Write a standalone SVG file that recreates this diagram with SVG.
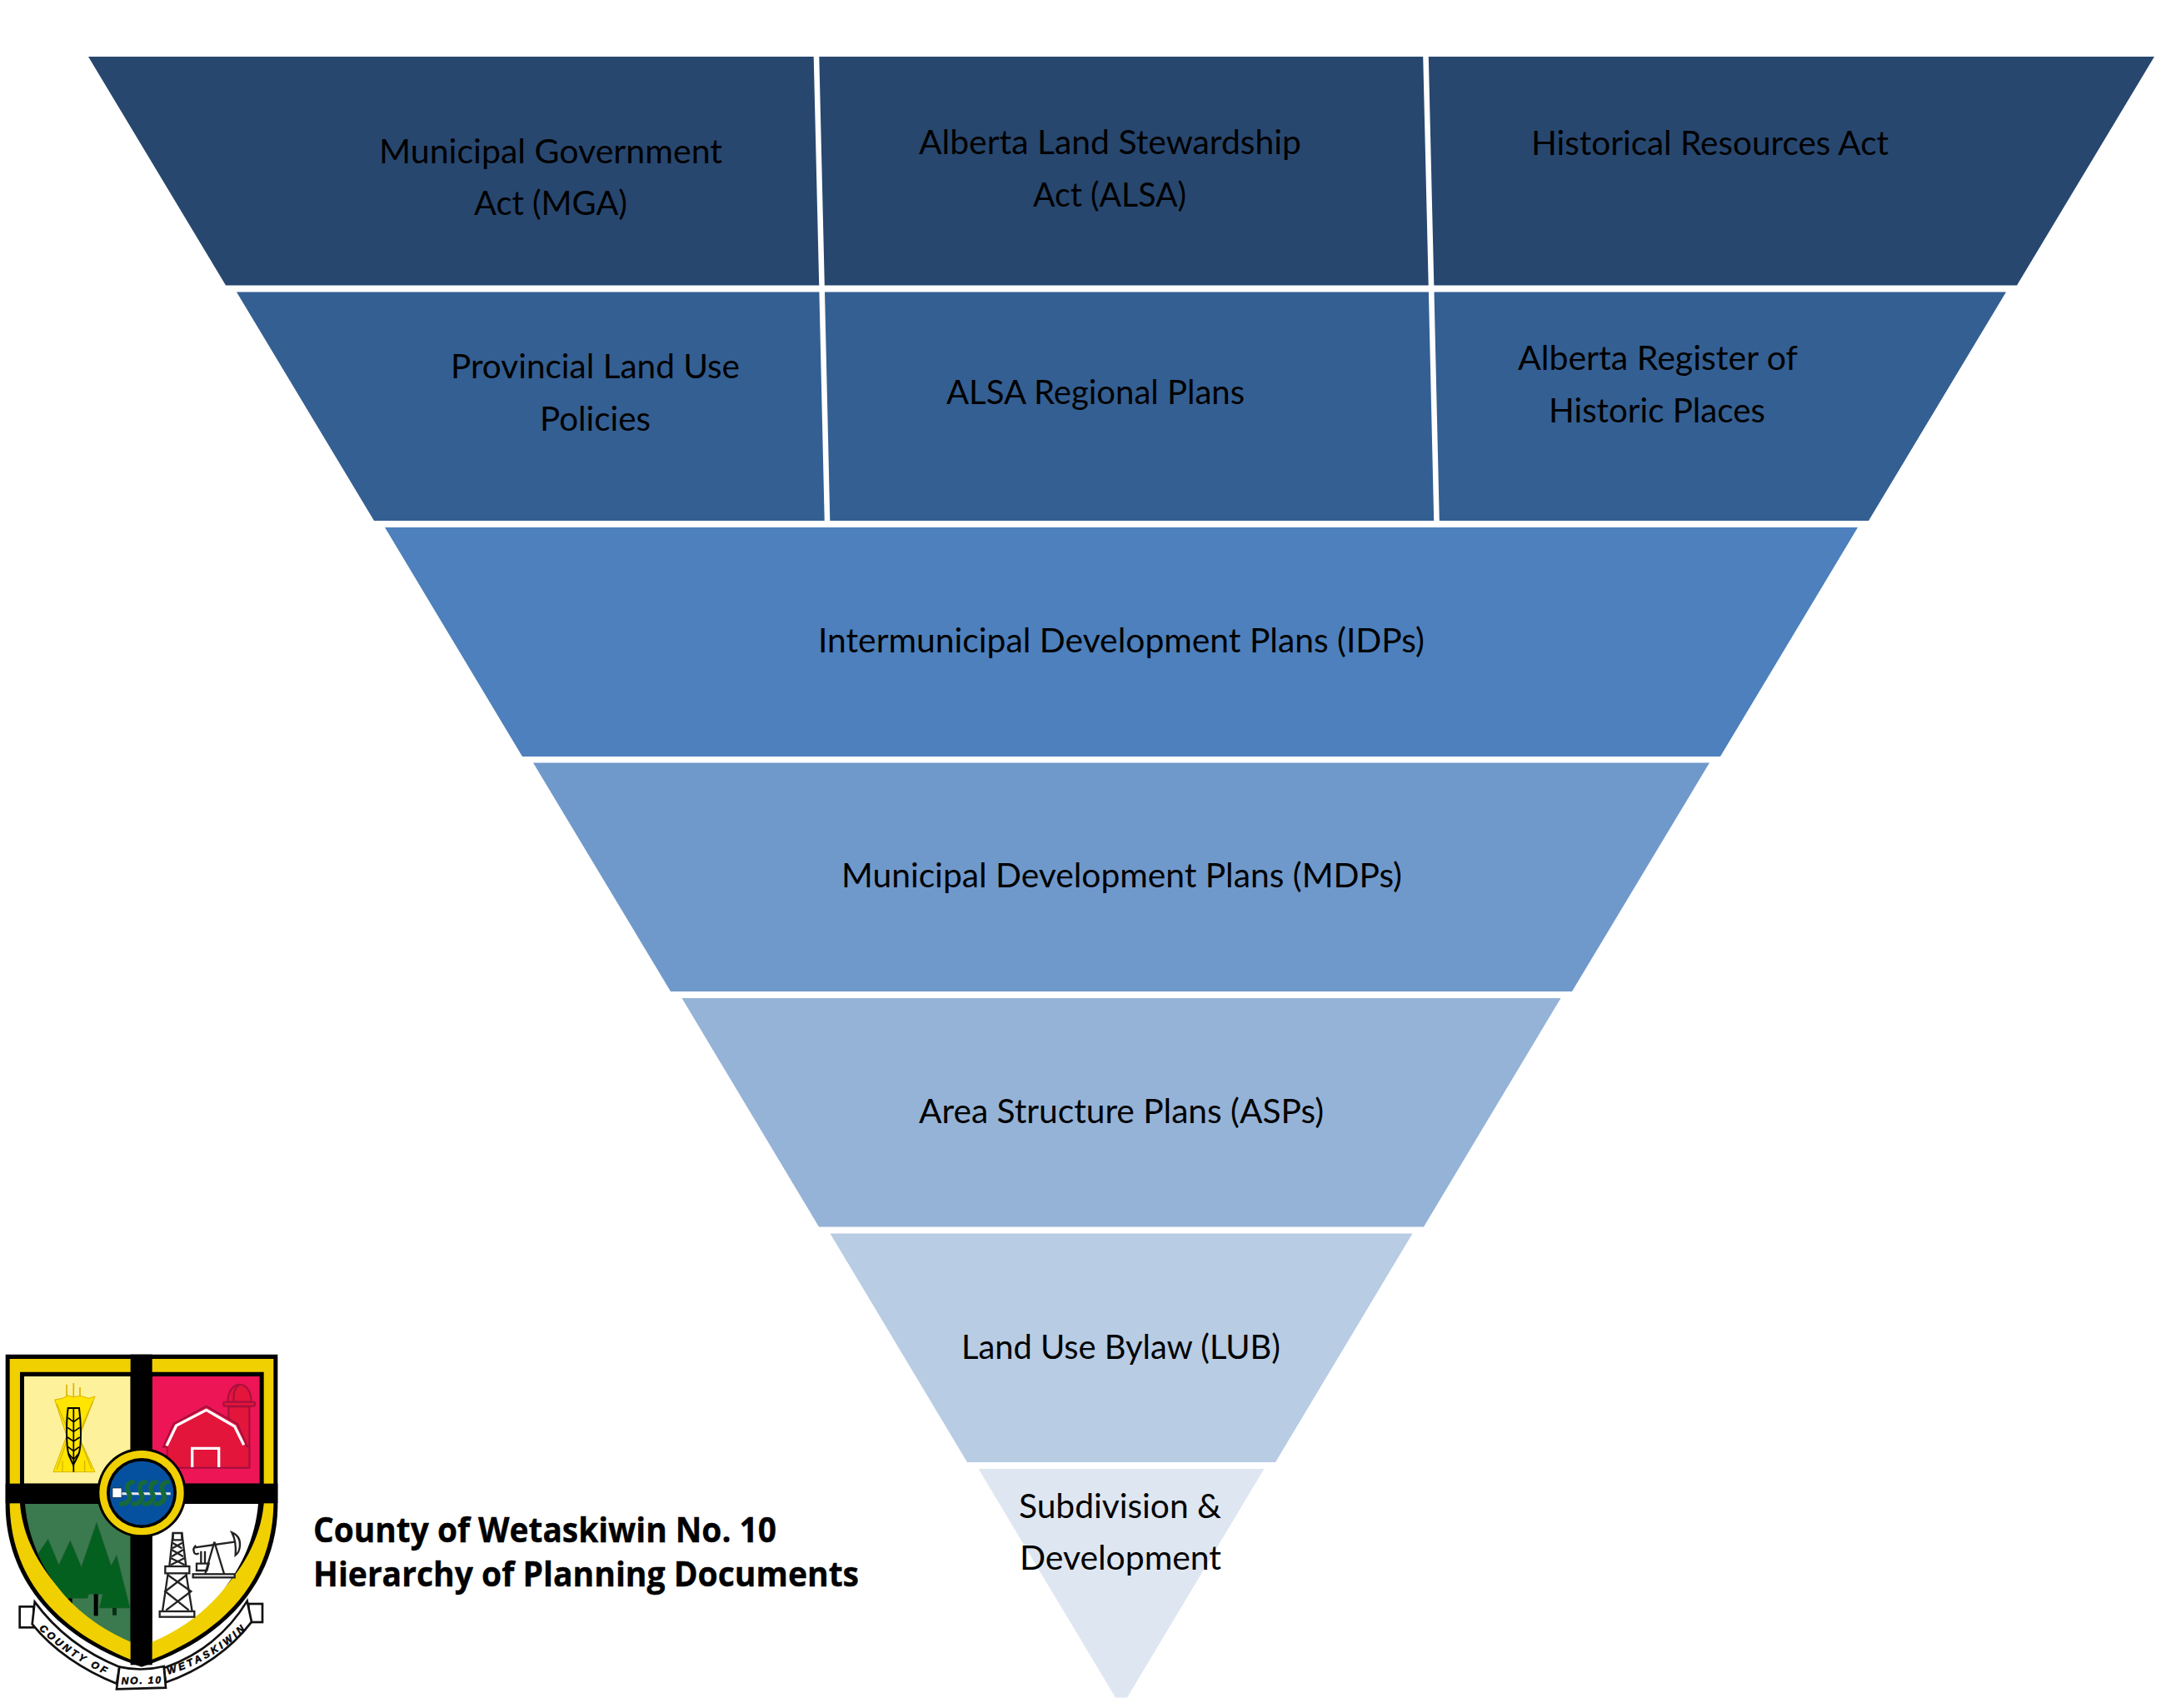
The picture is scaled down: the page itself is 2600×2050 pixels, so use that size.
<svg xmlns="http://www.w3.org/2000/svg" width="2600" height="2050" viewBox="0 0 2600 2050">
<style>
.t{font-family:"Lato","Carlito","Liberation Sans",sans-serif;font-size:40.5px;fill:#000}
.h{font-family:"Open Sans","Noto Sans","Liberation Sans",sans-serif;font-size:42px;font-weight:700;fill:#000;stroke:#000;stroke-width:.4}
.r{font-family:"Liberation Sans","DejaVu Sans",sans-serif;font-size:36px;font-weight:700;font-style:italic;fill:#000;stroke:#000;stroke-width:1.5}
.b1{fill:#27476f}.b2{fill:#345f92}.b3{fill:#4d80bc}.b4{fill:#7099cb}.b5{fill:#95b3d7}.b6{fill:#b8cce4}.b7{fill:#dee6f1}
</style>
<defs>
<clipPath id="greenClip"><path d="M90 585H470V1082C210 970 105 760 90 585Z"/></clipPath>
<path id="ribL" d="M140 1035Q240 1137 402 1209"/>
<path id="ribR" d="M605 1199Q770 1152 899 1022"/>
</defs>
<rect width="2600" height="2050" fill="#fff"/>

<g id="node-mga"><polygon class="b1" points="106,68 976.7,68 983.2,342.5 271,342.5"/>
<text class="t" x="455" y="196" textLength="412" lengthAdjust="spacingAndGlyphs">Municipal Government</text>
<text class="t" x="569" y="258" textLength="184" lengthAdjust="spacingAndGlyphs">Act (MGA)</text></g>
<g id="node-alsa"><polygon class="b1" points="983.3,68 1708.2,68 1714.7,342.5 989.8,342.5"/>
<text class="t" x="1103" y="185" textLength="459" lengthAdjust="spacingAndGlyphs">Alberta Land Stewardship</text>
<text class="t" x="1240" y="248" textLength="184" lengthAdjust="spacingAndGlyphs">Act (ALSA)</text></g>
<g id="node-hra"><polygon class="b1" points="1714.8,68 2586,68 2421,342.5 1721.3,342.5"/>
<text class="t" x="1838" y="186" textLength="429" lengthAdjust="spacingAndGlyphs">Historical Resources Act</text></g>

<g id="node-plup"><polygon class="b2" points="284,350.5 983.4,350.5 989.7,625 449,625"/>
<text class="t" x="541" y="454" textLength="347" lengthAdjust="spacingAndGlyphs">Provincial Land Use</text>
<text class="t" x="648" y="517" textLength="133" lengthAdjust="spacingAndGlyphs">Policies</text></g>
<g id="node-regional"><polygon class="b2" points="990,350.5 1714.9,350.5 1721.2,625 996.3,625"/>
<text class="t" x="1136" y="485" textLength="358" lengthAdjust="spacingAndGlyphs">ALSA Regional Plans</text></g>
<g id="node-register"><polygon class="b2" points="1721.5,350.5 2408,350.5 2243,625 1727.8,625"/>
<text class="t" x="1822" y="444" textLength="336" lengthAdjust="spacingAndGlyphs">Alberta Register of</text>
<text class="t" x="1859" y="507" textLength="260" lengthAdjust="spacingAndGlyphs">Historic Places</text></g>

<g id="node-idp"><polygon class="b3" points="462,633 2230,633 2065,908 627,908"/>
<text class="t" x="982" y="783" textLength="728" lengthAdjust="spacingAndGlyphs">Intermunicipal Development Plans (IDPs)</text></g>
<g id="node-mdp"><polygon class="b4" points="640,915.5 2052,915.5 1887,1190 805,1190"/>
<text class="t" x="1010" y="1065" textLength="673" lengthAdjust="spacingAndGlyphs">Municipal Development Plans (MDPs)</text></g>
<g id="node-asp"><polygon class="b5" points="818.5,1198 1873.5,1198 1709,1472.5 983,1472.5"/>
<text class="t" x="1103" y="1348" textLength="486" lengthAdjust="spacingAndGlyphs">Area Structure Plans (ASPs)</text></g>
<g id="node-lub"><polygon class="b6" points="996.5,1480.5 1695.5,1480.5 1531,1755 1161,1755"/>
<text class="t" x="1154" y="1631" textLength="383" lengthAdjust="spacingAndGlyphs">Land Use Bylaw (LUB)</text></g>
<g id="node-subdivision"><polygon class="b7" points="1174.6,1763 1517.4,1763 1353,2037.5 1339,2037.5"/>
<text class="t" x="1223" y="1822" textLength="243" lengthAdjust="spacingAndGlyphs">Subdivision &amp;</text>
<text class="t" x="1224" y="1884" textLength="242" lengthAdjust="spacingAndGlyphs">Development</text></g>

<g id="connectors"/>

<g id="title">
<text class="h" x="376" y="1851" textLength="556" lengthAdjust="spacingAndGlyphs">County of Wetaskiwin No. 10</text>
<text class="h" x="376" y="1904" textLength="655" lengthAdjust="spacingAndGlyphs">Hierarchy of Planning Documents</text>
</g>

<g id="logo" transform="translate(0 1610) scale(.33333)">
<g id="ribbon" fill="#fff" stroke="#111" stroke-width="8">
<rect x="71" y="955" width="50" height="75"/>
<rect x="895" y="945" width="50" height="66"/>
<path d="M125 938C200 1040 300 1120 430 1172L420 1232C300 1185 190 1110 116 1018Z"/>
<path d="M590 1176C720 1130 820 1050 890 935L906 1010C830 1110 720 1185 597 1228Z"/>
<path d="M430 1172Q510 1190 590 1170L597 1247L420 1252Z"/>
</g>
<text class="r"><textPath href="#ribL" textLength="290">COUNTY OF</textPath></text>
<text class="r"><textPath href="#ribR" textLength="325">WETASKIWIN</textPath></text>
<text class="r" x="437" y="1233" textLength="142" transform="rotate(-1.5 510 1225)">NO. 10</text>
<path fill="#000" d="M20 47H1000V600C995 830 850 1060 510 1172C170 1060 25 830 20 600Z"/>
<path fill="#f0d000" d="M35 63H985V590C980 825 845 1040 510 1160C175 1040 40 825 35 590Z"/>
<path fill="#000" d="M72 110H950V585C932 780 780 975 510 1097C240 975 88 780 72 585Z"/>
<rect x="87" y="126" width="383" height="386" fill="#fdf29b"/>
<rect x="548" y="126" width="387" height="386" fill="#ed1556"/>
<path fill="#3a7a4e" d="M90 585H470V1082C210 970 105 760 90 585Z"/>
<path fill="#fff" d="M930 585H548V1082C810 970 915 760 930 585Z"/>
<g id="trees" clip-path="url(#greenClip)">
<path fill="#03601f" stroke="#2a5a38" stroke-width="2" d="M120 790L173 712L212 805L253 717L293 812L348 652L400 808L420 770L468 960H358L370 910H320L315 925H200Z"/>
<rect x="245" y="925" width="15" height="40" fill="#000"/>
<rect x="338" y="910" width="15" height="78" fill="#000"/>
<rect x="405" y="960" width="15" height="26" fill="#0a2f16"/>
</g>
<g id="wheat">
<path d="M240 155V205M265 150V205M288 165V205" stroke="#d9b300" stroke-width="5" fill="none"/>
<path fill="#ffe500" stroke="#d9b300" stroke-width="3" d="M197 210L225 205L245 195L265 200L290 196L320 205L342 198L285 345L342 470H192L240 340Z"/>
<path d="M205 225L245 320M335 215L290 320M205 460L240 360M330 460L290 360M225 470V430M305 470V430" stroke="#c9a800" stroke-width="3" fill="none"/>
<path fill="#ffe500" stroke="#000" stroke-width="6" d="M245 240H285C292 290 295 380 282 410L264 445L248 410C238 380 238 290 245 240Z"/>
<path d="M265 240V470M245 275L265 290L285 275M243 310L265 325L287 310M243 345L265 360L287 345M245 380L265 395L285 380M248 405L265 425L282 405" stroke="#000" stroke-width="5" fill="none"/>
</g>
<g id="barn" fill="#e3153b" stroke="#a50f3e" stroke-width="6">
<path d="M823 455V235H898V445Q898 455 888 455Z"/>
<path d="M820 218C820 180 840 155 862 155C890 155 905 185 905 218Z"/>
<rect x="805" y="218" width="113" height="15" rx="4"/>
<path d="M860 158C842 168 840 195 842 218" fill="none"/>
<path d="M602 455V380H588L625 297L743 233L855 297L890 378H898V455Z"/>
</g>
<path d="M600 376L635 303L743 247L845 306L878 373" fill="none" stroke="#fff" stroke-width="10"/>
<path d="M692 453V385H788V453" fill="none" stroke="#fff" stroke-width="10"/>
<g id="oil" stroke="#222" fill="none" stroke-width="7">
<path d="M623 690L610 810M655 690L670 810M605 835L585 972M670 835L692 972"/>
<path d="M623 690H655V715H623ZM621 725L655 745M657 725L621 745M618 750L660 775M660 750L618 775M615 780L665 805M665 780L615 805"/>
<path d="M603 840L688 900L598 968M673 840L595 900L680 968"/>
<rect x="595" y="810" width="87" height="25" fill="#fff"/>
<rect x="575" y="972" width="125" height="20" fill="#fff"/>
<path d="M702 742L845 722"/>
<path d="M706 735Q692 745 700 762Q708 770 716 762"/>
<path d="M835 688Q866 700 864 735Q862 760 848 770Q852 720 835 688Z" fill="#fff"/>
<path d="M772 722L738 840M772 722L808 840"/>
<path d="M724 755V800M738 755V800M708 800H752L745 825H708Z"/>
<rect x="695" y="838" width="150" height="12" fill="#fff"/>
</g>
<rect x="470" y="47" width="78" height="1118" fill="#000"/>
<rect x="20" y="512" width="980" height="71" fill="#000"/>
<g id="medallion">
<circle cx="510" cy="545" r="161" fill="#000"/>
<circle cx="510" cy="545" r="152" fill="#f0d000"/>
<circle cx="510" cy="546" r="126" fill="#000"/>
<circle cx="510" cy="546" r="115" fill="#06519f"/>
<path d="M430 548H614" stroke="#e8e8e8" stroke-width="9"/>
<rect x="405" y="528" width="33" height="34" fill="#fff" stroke="#222" stroke-width="2"/>
<g fill="none" stroke="#17693a" stroke-width="17" stroke-linecap="round">
<path d="M478 507C455 510 455 530 465 548C475 565 460 585 437 585"/>
<path d="M522 507C499 510 499 530 509 548C519 565 504 585 481 585"/>
<path d="M562 507C539 510 539 530 549 548C559 565 544 585 521 585"/>
<path d="M602 507C579 510 579 530 589 548C599 565 584 585 561 585"/>
</g>
</g>
</g>
</svg>
